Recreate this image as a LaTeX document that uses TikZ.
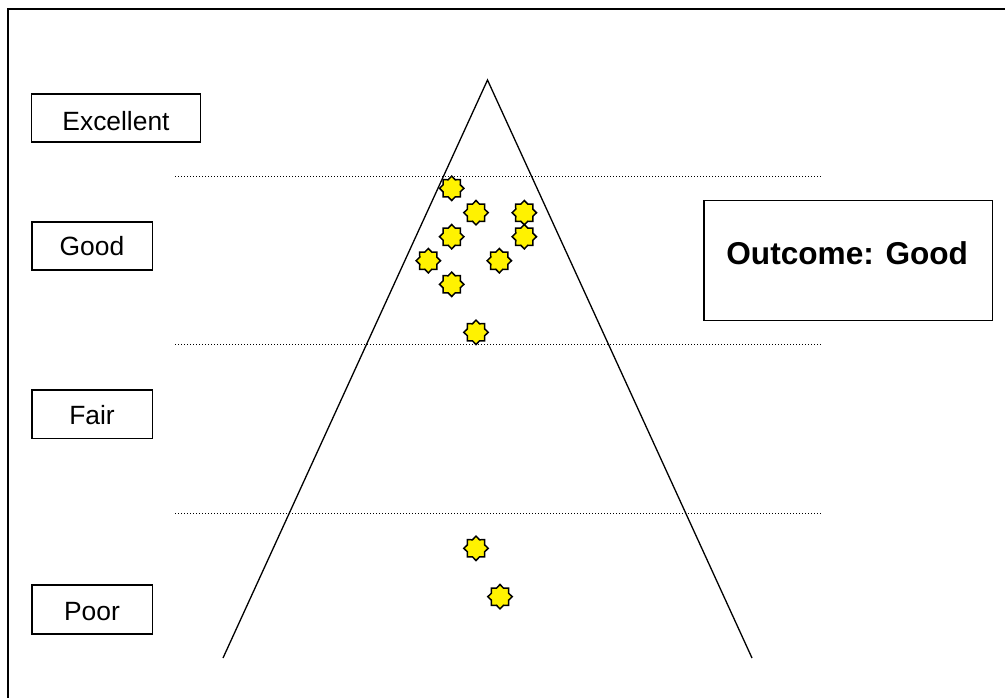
\documentclass[tikz,border=0pt]{standalone}
\usepackage{fontspec}
\setmainfont{Liberation Sans}
\usetikzlibrary{shapes.geometric}
\def\u{0.5pt}
\tikzset{
  frame/.style={line width=0.75pt},
  label box/.style={draw, line width=0.75pt, rectangle, inner sep=0pt},
  label text/.style={inner sep=0pt, font=\fontsize{13.2}{15}\selectfont, text height=0.716em, text depth=0pt},
  tri/.style={line width=0.65pt},
  level line/.style={line width=0.5pt, dash pattern=on 0.5pt off 1pt},
  starmark/.style={draw, line width=0.75pt, fill=yellow, shape=star, star points=8, star point ratio=1.32, minimum size=12.2pt, inner sep=0pt}
}
\begin{document}
\begin{tikzpicture}[x=0.5pt,y=-0.5pt]
\useasboundingbox (0,0) rectangle (1005,697);
\clip (0,0) rectangle (1005,697);
\draw[frame] (8,9) rectangle (1015,710);
% level boxes
\node[label box, minimum width=169*\u, minimum height=48*\u] (exc) at (116.2,118) {};
\node[label text] (exct) at (116,123) {Excellent};
\node[label box, minimum width=120.5*\u, minimum height=48.3*\u] (good) at (92,245.9) {};
\node[label text] (goodt) at (92,248.5) {Good};
\node[label box, minimum width=120.5*\u, minimum height=48.3*\u] (fair) at (92,414.2) {};
\node[label text] (fairt) at (92,417.5) {Fair};
\node[label box, minimum width=120.5*\u, minimum height=49*\u] (poor) at (92,609.5) {};
\node[label text] (poort) at (92,613) {Poor};
% outcome
\node[draw, line width=0.75pt, minimum width=288.7*\u, minimum height=120*\u, inner sep=0pt] (outcome) at (848.3,260.7) {};
\node[font=\fontsize{15.8}{18}\selectfont\bfseries, text height=0.716em, text depth=0pt, inner sep=0pt] (outtext) at (847.2,257) {Outcome: Good};
% triangle
\coordinate (apex) at (487.5,80);
\coordinate (bl) at (223,658);
\coordinate (br) at (752,658);
\draw[tri] (bl) -- (apex) -- (br);
% dotted level lines
\coordinate (l1a) at (175,176.7); \coordinate (l1b) at (822,176.7);
\coordinate (l2a) at (175,344.5); \coordinate (l2b) at (822,344.5);
\coordinate (l3a) at (175,513.5); \coordinate (l3b) at (822,513.5);
\draw[level line] (l1a) -- (l1b);
\draw[level line] (l2a) -- (l2b);
\draw[level line] (l3a) -- (l3b);
% stars
\node[starmark] (s1) at (451.7,188.3) {};
\node[starmark] (s2) at (476,212.7) {};
\node[starmark] (s3) at (524.3,212.7) {};
\node[starmark] (s4) at (451.7,236.7) {};
\node[starmark] (s5) at (524.3,236.7) {};
\node[starmark] (s6) at (428.3,260.7) {};
\node[starmark] (s7) at (499.3,260.7) {};
\node[starmark] (s8) at (451.7,284.3) {};
\node[starmark] (s9) at (476,332.3) {};
\node[starmark] (s10) at (476,548.3) {};
\node[starmark] (s11) at (500,596.7) {};
\end{tikzpicture}
\end{document}
